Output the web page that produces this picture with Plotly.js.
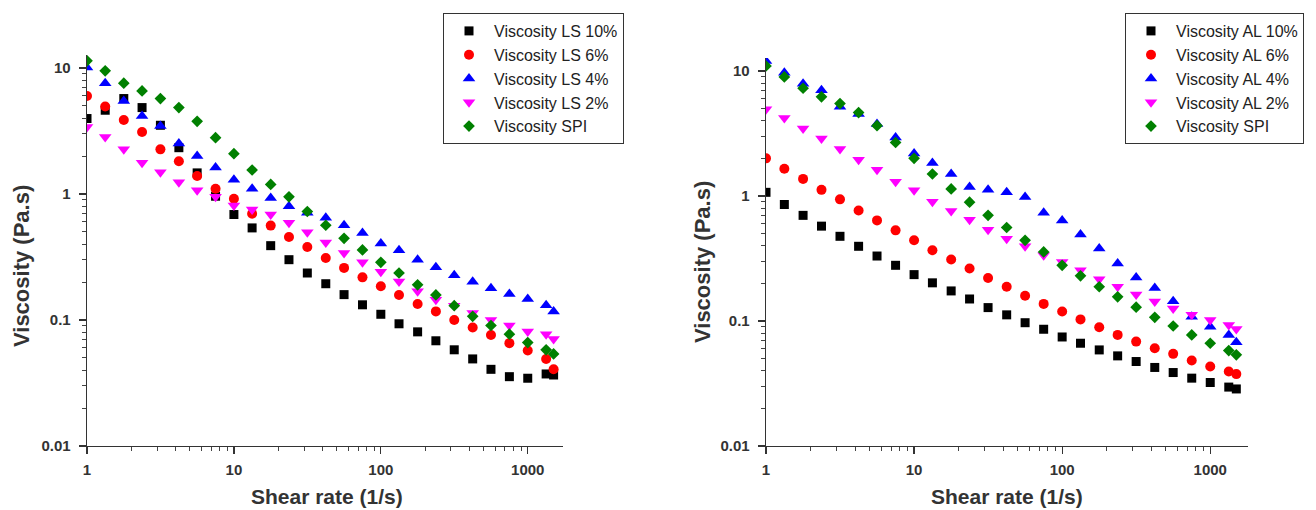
<!DOCTYPE html>
<html><head><meta charset="utf-8">
<script src="https://cdn.plot.ly/plotly-3.0.1.min.js"></script>
<style>html,body{margin:0;padding:0;background:#fff}#chart{width:1316px;height:510px}</style>
</head><body><div id="chart"></div>
<script>
// Shear rate (1/s)
const shearRate = [1, 1.33, 1.78, 2.37, 3.16, 4.22, 5.62, 7.5, 10, 13.3, 17.8, 23.7, 31.6, 42.2, 56.2, 75, 100, 133, 178, 237, 316, 422, 562, 750, 1000, 1334, 1500];

// Left panel: LS series
const lsNames = ['Viscosity LS 10%', 'Viscosity LS 6%', 'Viscosity LS 4%', 'Viscosity LS 2%', 'Viscosity SPI'];
const ls10 = [3.97, 4.62, 5.72, 4.85, 3.51, 2.33, 1.47, 0.96, 0.687, 0.538, 0.389, 0.301, 0.236, 0.194, 0.159, 0.132, 0.111, 0.0933, 0.0805, 0.0684, 0.058, 0.0491, 0.0406, 0.0355, 0.0345, 0.0373, 0.0366];
const ls6 = [6.0, 4.94, 3.87, 3.10, 2.26, 1.82, 1.39, 1.10, 0.916, 0.696, 0.561, 0.456, 0.38, 0.31, 0.259, 0.218, 0.185, 0.158, 0.134, 0.117, 0.100, 0.0871, 0.0759, 0.0655, 0.0572, 0.0491, 0.0407];
const ls4 = [10.1, 7.57, 5.47, 4.16, 3.46, 2.51, 2.0, 1.62, 1.30, 1.10, 0.93, 0.80, 0.71, 0.647, 0.565, 0.491, 0.405, 0.357, 0.301, 0.262, 0.226, 0.201, 0.179, 0.161, 0.147, 0.131, 0.117];
const ls2 = [3.40, 2.83, 2.26, 1.77, 1.49, 1.24, 1.07, 0.95, 0.81, 0.753, 0.687, 0.59, 0.497, 0.413, 0.34, 0.287, 0.242, 0.202, 0.169, 0.145, 0.130, 0.1135, 0.1, 0.0904, 0.081, 0.0772, 0.0705];
const spiLeft = [11.4, 9.5, 7.57, 6.58, 5.72, 4.85, 3.77, 2.80, 2.09, 1.55, 1.19, 0.95, 0.726, 0.565, 0.445, 0.36, 0.287, 0.236, 0.19, 0.158, 0.130, 0.107, 0.0904, 0.0772, 0.0662, 0.058, 0.0538];

// Right panel: AL series
const alNames = ['Viscosity AL 10%', 'Viscosity AL 6%', 'Viscosity AL 4%', 'Viscosity AL 2%', 'Viscosity SPI'];
const al10 = [1.07, 0.855, 0.70, 0.574, 0.476, 0.396, 0.331, 0.279, 0.235, 0.202, 0.174, 0.15, 0.128, 0.112, 0.0969, 0.0859, 0.0745, 0.0664, 0.0587, 0.0526, 0.0474, 0.0425, 0.0387, 0.0349, 0.0322, 0.0296, 0.0286];
const al6 = [2.0, 1.65, 1.37, 1.12, 0.94, 0.766, 0.638, 0.531, 0.442, 0.368, 0.31, 0.263, 0.221, 0.188, 0.159, 0.137, 0.119, 0.103, 0.0891, 0.0774, 0.0684, 0.0606, 0.0546, 0.0483, 0.0433, 0.0394, 0.0376];
const al4 = [12.0, 9.69, 7.92, 7.02, 5.17, 4.52, 3.76, 2.94, 2.19, 1.84, 1.50, 1.18, 1.12, 1.07, 0.98, 0.735, 0.638, 0.493, 0.38, 0.288, 0.223, 0.184, 0.144, 0.108, 0.090, 0.0774, 0.0676];
const al2 = [4.95, 4.2, 3.47, 2.89, 2.38, 1.95, 1.62, 1.30, 1.11, 0.90, 0.757, 0.646, 0.538, 0.456, 0.397, 0.336, 0.297, 0.255, 0.216, 0.188, 0.163, 0.143, 0.126, 0.112, 0.102, 0.0929, 0.0863];
const spiRight = [10.96, 8.96, 7.28, 6.21, 5.49, 4.65, 3.65, 2.68, 2.0, 1.50, 1.14, 0.893, 0.70, 0.56, 0.442, 0.357, 0.279, 0.23, 0.188, 0.156, 0.129, 0.107, 0.0912, 0.0774, 0.0664, 0.058, 0.0536];

const colors = ['#000000', '#ff0000', '#0000ff', '#ff00ff', '#008000'];
const symbols = ['square', 'circle', 'triangle-up', 'triangle-down', 'diamond'];
const sizes = [9, 10, 11, 11, 9];

const leftSeries = [ls10, ls6, ls4, ls2, spiLeft];
const rightSeries = [al10, al6, al4, al2, spiRight];

const traces = [];
leftSeries.forEach((ys, i) => traces.push({
  type: 'scatter', mode: 'markers', x: shearRate, y: ys, name: lsNames[i],
  xaxis: 'x', yaxis: 'y', legend: 'legend',
  marker: {color: colors[i], symbol: symbols[i], size: sizes[i], line: {width: 0}}
}));
rightSeries.forEach((ys, i) => traces.push({
  type: 'scatter', mode: 'markers', x: shearRate, y: ys, name: alNames[i],
  xaxis: 'x2', yaxis: 'y2', legend: 'legend2',
  marker: {color: colors[i], symbol: symbols[i], size: sizes[i], line: {width: 0}}
}));

const FONT = 'Liberation Sans, Arial, sans-serif';
const axisCommon = {
  type: 'log', showline: true, linecolor: '#333', linewidth: 1.3, mirror: false,
  showgrid: false, zeroline: false,
  ticks: 'outside', ticklen: 7, tickwidth: 1.2, tickcolor: '#333',
  dtick: 1, exponentformat: 'none',
  tickfont: {family: FONT, size: 15, color: '#333', weight: 'bold'},
  minor: {ticks: 'outside', ticklen: 4, tickwidth: 1, tickcolor: '#444', dtick: 'D1', showgrid: false}
};

const legendCommon = {
  bordercolor: '#333', borderwidth: 1, bgcolor: 'rgba(255,255,255,0)',
  font: {family: FONT, size: 16, color: '#222'},
  xanchor: 'left', yanchor: 'top', y: 0.9745, itemwidth: 40, tracegroupgap: 0
};

const titleFont = {family: FONT, size: 22, color: '#333', weight: 'bold'};
const xTitleFont = {family: FONT, size: 21, color: '#333', weight: 'bold'};

const layout = {
  width: 1316, height: 510,
  margin: {l: 0, r: 0, t: 0, b: 0},
  paper_bgcolor: '#ffffff', plot_bgcolor: '#ffffff',
  showlegend: true,
  xaxis: Object.assign({}, axisCommon, {domain: [87/1316, 563/1316], range: [0, 3.24], anchor: 'y', ticklabelstandoff: 3}),
  yaxis: Object.assign({}, axisCommon, {domain: [64/510, 455/510], range: [-2, 1.103], anchor: 'x', ticklabelstandoff: 5}),
  xaxis2: Object.assign({}, axisCommon, {domain: [766/1316, 1248/1316], range: [0, 3.255], anchor: 'y2', ticklabelstandoff: 3}),
  yaxis2: Object.assign({}, axisCommon, {domain: [64/510, 452/510], range: [-2, 1.104], anchor: 'x2', ticklabelstandoff: 5}),
  legend: Object.assign({}, legendCommon, {x: 443/1316}),
  legend2: Object.assign({}, legendCommon, {x: 1125/1316}),
  annotations: [
    {text: 'Viscosity (Pa.s)', xref: 'paper', yref: 'paper', x: 22/1316, y: (510-266)/510, textangle: -90, showarrow: false, font: titleFont, xanchor: 'center', yanchor: 'middle'},
    {text: 'Viscosity (Pa.s)', xref: 'paper', yref: 'paper', x: 702/1316, y: (510-262)/510, textangle: -90, showarrow: false, font: titleFont, xanchor: 'center', yanchor: 'middle'},
    {text: 'Shear rate (1/s)', xref: 'paper', yref: 'paper', x: 327/1316, y: 14/510, showarrow: false, font: xTitleFont, xanchor: 'center', yanchor: 'middle'},
    {text: 'Shear rate (1/s)', xref: 'paper', yref: 'paper', x: 1007/1316, y: 14/510, showarrow: false, font: xTitleFont, xanchor: 'center', yanchor: 'middle'}
  ]
};

Plotly.newPlot('chart', traces, layout, {staticPlot: true, displayModeBar: false});
</script>
</body></html>
